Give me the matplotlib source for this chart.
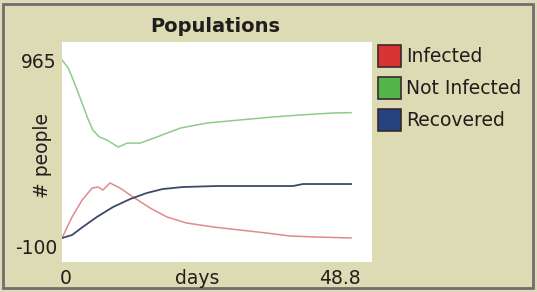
import matplotlib.pyplot as plt
from matplotlib.patches import Rectangle

# -----------------------
# DATOS
# -----------------------
x_not_inf = [0, 1.0, 1.7, 2.6, 3.4, 4.3, 5.2, 6.3, 7.6, 9.5, 11, 13.2, 16, 20, 24.5, 30, 35.6, 40.2, 45.8, 48.8]
y_not_inf = [965, 920, 863, 780, 707, 620, 546, 505, 486, 444, 468, 468, 504, 558, 588, 606, 624, 636, 648, 650]

x_inf = [0, 1.7, 3.4, 5.1, 6.1, 6.9, 8.1, 9.8, 12, 14.9, 17.7, 21, 25.5, 30, 34.5, 38.5, 43, 48.8]
y_inf = [-100, 26, 127, 199, 205, 187, 229, 199, 145, 79, 26, -10, -34, -52, -70, -88, -94, -100]

x_rec = [0, 1.7, 3.5, 5.9, 8.6, 11.5, 14.3, 17, 20.4, 26.2, 39, 40.7, 48.8]
y_rec = [-100, -82, -34, 26, 85, 133, 169, 193, 205, 211, 211, 223, 223]

legend_labels = ['Infected', 'Not Infected', 'Recovered']
legend_colors = ['#d83434', '#54b44c', '#23427e']
x_min, x_max = 0, 48.8
y_min, y_max = -100, 965

beige = '#dddbb3'
W, H = 537, 292

fig = plt.figure(figsize=(W / 100, H / 100), dpi=100, facecolor=beige)

# marco exterior
fig.patches.append(Rectangle((3 / W, 4 / H), 530 / W, 284 / H, transform=fig.transFigure,
                             fill=False, edgecolor='#6e6e6e', linewidth=2))

# zona blanca del gráfico: x 62..372, y 42..262 (px)
ax = fig.add_axes([62 / W, (H - 262) / H, (372 - 62) / W, (262 - 42) / H])
ax.set_facecolor('white')
for s in ax.spines.values():
    s.set_visible(False)
ax.set_xticks([])
ax.set_yticks([])

# escala: x=48.8 en px 351, y=965 en px 60, y=-100 en px 238
px_per_x = (351 - 62) / x_max
ax.set_xlim(0, (372 - 62) / px_per_x)
py_per_y = (238 - 60) / (y_max - y_min)
ax.set_ylim(y_min - (262 - 238) / py_per_y, y_max + (60 - 42) / py_per_y)

ax.plot(x_not_inf, y_not_inf, color='#8fcc8a', lw=1.1)
ax.plot(x_inf, y_inf, color='#e08a90', lw=1.1)
ax.plot(x_rec, y_rec, color='#3c4a66', lw=1.3)

txt = '#1e1e1e'
fs = 13.5
fig.text(215 / W, 1 - 27 / H, 'Populations', ha='center', va='center',
         fontsize=14, fontweight='bold', color=txt)
fig.text(57 / W, 1 - 62 / H, str(y_max), ha='right', va='center', fontsize=fs, color=txt)
fig.text(57 / W, 1 - 248 / H, str(y_min), ha='right', va='center', fontsize=fs, color=txt)
fig.text(43 / W, 1 - 155 / H, '# people', ha='center', va='center', rotation=90,
         fontsize=fs, color=txt)
fig.text(60 / W, 1 - 278 / H, '0', ha='left', va='center', fontsize=fs, color=txt)
fig.text(361 / W, 1 - 278 / H, str(x_max), ha='right', va='center', fontsize=fs, color=txt)
fig.text(197 / W, 1 - 278 / H, 'days', ha='center', va='center', fontsize=fs, color=txt)

# leyenda
for i, (lab, col) in enumerate(zip(legend_labels, legend_colors)):
    yc = 56 + i * 32
    fig.patches.append(Rectangle((378 / W, 1 - (yc + 11) / H), 23 / W, 22 / H,
                                 transform=fig.transFigure, facecolor=col,
                                 edgecolor='#3a2a2a', linewidth=1.2))
    fig.text(406 / W, 1 - yc / H, lab, ha='left', va='center', fontsize=fs, color=txt)

fig.savefig('out.png', dpi=100, facecolor=beige)
